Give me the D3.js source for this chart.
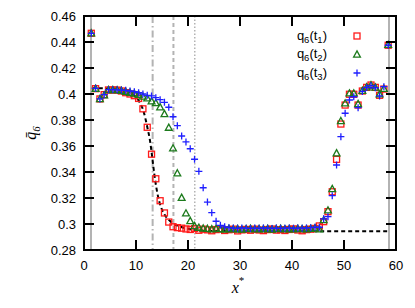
<!DOCTYPE html>
<html>
<head>
<meta charset="utf-8">
<script src="https://cdnjs.cloudflare.com/ajax/libs/d3/7.8.5/d3.min.js"></script>
<style>
  body { margin: 0; background: #fff; }
  svg { display: block; }
  .tick-label { font-family: "Liberation Sans", Arial, sans-serif; font-size: 13px; fill: #000; }
  .legend-label { font-family: "Liberation Sans", Arial, sans-serif; font-size: 13px; fill: #000; }
  .axis-title { font-family: "Liberation Serif", "Times New Roman", serif; font-style: italic; font-size: 16px; fill: #000; }
</style>
</head>
<body>
<div id="chart"></div>
<script>
// bin centres along x*
var xs = [1.40, 2.23, 3.06, 3.88, 4.71, 5.54, 6.37, 7.19, 8.02, 8.85,
  9.68, 10.50, 11.33, 12.16, 12.99, 13.81, 14.64, 15.47, 16.30, 17.12,
  17.95, 18.78, 19.61, 20.43, 21.26, 22.09, 22.92, 23.74, 24.57, 25.40,
  26.23, 27.05, 27.88, 28.71, 29.54, 30.36, 31.19, 32.02, 32.85, 33.67,
  34.50, 35.33, 36.16, 36.98, 37.81, 38.64, 39.47, 40.29, 41.12, 41.95,
  42.78, 43.60, 44.43, 45.26, 46.09, 46.92, 47.74, 48.57, 49.40, 50.22,
  51.05, 51.88, 52.71, 53.53, 54.36, 55.19, 56.02, 56.84, 57.67, 58.50];

var q6t1 = [0.4467, 0.4041, 0.3962, 0.3995, 0.4031, 0.4031, 0.4030, 0.4023, 0.4010, 0.4000,
  0.3987, 0.3966, 0.3886, 0.3744, 0.3537, 0.3348, 0.3179, 0.3085, 0.3015, 0.2979,
  0.2972, 0.2968, 0.2962, 0.2958, 0.2965, 0.2952, 0.2960, 0.2955, 0.2948, 0.2957,
  0.2962, 0.2950, 0.2956, 0.2960, 0.2947, 0.2955, 0.2958, 0.2952, 0.2960, 0.2954,
  0.2949, 0.2957, 0.2961, 0.2953, 0.2956, 0.2950, 0.2958, 0.2962, 0.2954, 0.2948,
  0.2957, 0.2960, 0.2966, 0.2985, 0.3018, 0.3095, 0.3248, 0.3497, 0.3769, 0.3915,
  0.3998, 0.3998, 0.3915, 0.4023, 0.4051, 0.4069, 0.4051, 0.3990, 0.4038, 0.4375];

var q6t2 = [0.4467, 0.4041, 0.3962, 0.3990, 0.4031, 0.4031, 0.4030, 0.4025, 0.4018, 0.4010,
  0.4003, 0.3995, 0.3980, 0.3967, 0.3944, 0.3931, 0.3898, 0.3846, 0.3741, 0.3582,
  0.3390, 0.3202, 0.3082, 0.3023, 0.2985, 0.2972, 0.2966, 0.2963, 0.2960, 0.2964,
  0.2961, 0.2958, 0.2963, 0.2960, 0.2962, 0.2957, 0.2961, 0.2964, 0.2959, 0.2962,
  0.2960, 0.2963, 0.2958, 0.2961, 0.2964, 0.2960, 0.2962, 0.2959, 0.2963, 0.2961,
  0.2960, 0.2964, 0.2968, 0.2960, 0.3030, 0.3105, 0.3269, 0.3544, 0.3792, 0.3928,
  0.4005, 0.4005, 0.3923, 0.4025, 0.4052, 0.4068, 0.4050, 0.3998, 0.4040, 0.4378];

var q6t3 = [0.4467, 0.4044, 0.3962, 0.3995, 0.4033, 0.4033, 0.4032, 0.4030, 0.4028, 0.4023,
  0.4018, 0.4010, 0.4000, 0.3990, 0.3985, 0.3972, 0.3956, 0.3936, 0.3898, 0.3825,
  0.3756, 0.3677, 0.3631, 0.3579, 0.3498, 0.3405, 0.3279, 0.3169, 0.3087, 0.3021,
  0.2990, 0.2978, 0.2972, 0.2969, 0.2967, 0.2970, 0.2968, 0.2966, 0.2969, 0.2967,
  0.2970, 0.2968, 0.2966, 0.2969, 0.2967, 0.2968, 0.2970, 0.2967, 0.2969, 0.2968,
  0.2970, 0.2972, 0.2975, 0.2975, 0.3040, 0.3056, 0.3218, 0.3454, 0.3672, 0.3852,
  0.3954, 0.3979, 0.3895, 0.4020, 0.4050, 0.4065, 0.4048, 0.3985, 0.4056, 0.4375];

// fitted interface profile (black dashed)
var fitX = [1.5, 5, 7, 8.5, 9.5, 10.5, 11.5, 12.2, 12.7, 13.1, 13.5, 14, 14.5, 15, 15.7,
  16.5, 17.5, 18.5, 20, 22, 25, 30, 58.5];
var fitY = [0.4045, 0.4042, 0.4035, 0.4020, 0.3995, 0.3950, 0.3860, 0.3740, 0.3640, 0.3520,
  0.3390, 0.3260, 0.3170, 0.3110, 0.3060, 0.3025, 0.2995, 0.2980, 0.2963, 0.2952, 0.2946,
  0.2945, 0.2945];

var walls = [1.35, 58.65];
var fronts = [13.2, 17.2, 21.3];
var frontDash = ["7,3,1.5,3", "4,3", "1.5,2"];

var xTicks = [0, 10, 20, 30, 40, 50, 60];
var yTicks = [0.28, 0.30, 0.32, 0.34, 0.36, 0.38, 0.40, 0.42, 0.44, 0.46];
var legendNames = ["1", "2", "3"];

var W = 415, H = 308;
var m = {left: 84, top: 16, right: 19, bottom: 58};
var iw = W - m.left - m.right, ih = H - m.top - m.bottom;

var svg = d3.select("#chart").append("svg")
  .attr("width", W).attr("height", H);

var x = d3.scaleLinear().domain([0, 60]).range([0, iw]);
var y = d3.scaleLinear().domain([0.28, 0.46]).range([ih, 0]);

var g = svg.append("g").attr("transform", "translate(" + m.left + "," + m.top + ")");

// vertical reference lines
g.selectAll(".wall").data(walls).enter().append("line")
  .attr("x1", function(d) { return x(d); }).attr("x2", function(d) { return x(d); })
  .attr("y1", 0).attr("y2", ih)
  .attr("stroke", "#b3b3b3").attr("stroke-width", 2);

g.selectAll(".front").data(fronts).enter().append("line")
  .attr("x1", function(d) { return x(d); }).attr("x2", function(d) { return x(d); })
  .attr("y1", 0).attr("y2", ih)
  .attr("stroke", "#b3b3b3")
  .attr("stroke-width", function(d, i) { return i === 2 ? 1.5 : 2; })
  .attr("stroke-dasharray", function(d, i) { return frontDash[i]; });

// fit curve
var fit = fitX.map(function(v, i) { return [v, fitY[i]]; });
g.append("path").datum(fit)
  .attr("fill", "none").attr("stroke", "#000").attr("stroke-width", 2)
  .attr("stroke-dasharray", "4,3")
  .attr("d", d3.line().curve(d3.curveMonotoneX)
    .x(function(d) { return x(d[0]); }).y(function(d) { return y(d[1]); }));

var pts = function(vals) { return xs.map(function(v, i) { return [v, vals[i]]; }); };

var drawSquares = function(sel) {
  sel.append("rect").attr("x", -3).attr("y", -3).attr("width", 6).attr("height", 6)
    .attr("fill", "none").attr("stroke", "#ff1a1a").attr("stroke-width", 1.3);
};
var drawTriangles = function(sel) {
  sel.append("path").attr("d", "M0,-3.6L3.4,2.6L-3.4,2.6Z")
    .attr("fill", "none").attr("stroke", "#1c7a1c").attr("stroke-width", 1.3);
};
var drawPlus = function(sel) {
  sel.append("path").attr("d", "M-3.5,0H3.5M0,-3.5V3.5")
    .attr("fill", "none").attr("stroke", "#1f1fff").attr("stroke-width", 1.3);
};

var series = [[q6t1, drawSquares], [q6t2, drawTriangles], [q6t3, drawPlus]];
series.forEach(function(s) {
  g.append("g").selectAll("g").data(pts(s[0])).enter().append("g")
    .attr("transform", function(d) { return "translate(" + x(d[0]) + "," + y(d[1]) + ")"; })
    .call(s[1]);
});

// frame + inward ticks on all sides
g.append("rect").attr("width", iw).attr("height", ih)
  .attr("fill", "none").attr("stroke", "#000").attr("stroke-width", 2);

var tl = 10;
var xt = xTicks.slice(1, -1), yt = yTicks.slice(1, -1);
g.selectAll(".xtb").data(xt).enter().append("line")
  .attr("x1", function(d) { return x(d); }).attr("x2", function(d) { return x(d); })
  .attr("y1", ih).attr("y2", ih - tl).attr("stroke", "#000").attr("stroke-width", 2);
g.selectAll(".xtt").data(xt).enter().append("line")
  .attr("x1", function(d) { return x(d); }).attr("x2", function(d) { return x(d); })
  .attr("y1", 0).attr("y2", tl).attr("stroke", "#000").attr("stroke-width", 2);
g.selectAll(".ytl").data(yt).enter().append("line")
  .attr("y1", function(d) { return y(d); }).attr("y2", function(d) { return y(d); })
  .attr("x1", 0).attr("x2", tl).attr("stroke", "#000").attr("stroke-width", 2);
g.selectAll(".ytr").data(yt).enter().append("line")
  .attr("y1", function(d) { return y(d); }).attr("y2", function(d) { return y(d); })
  .attr("x1", iw).attr("x2", iw - tl).attr("stroke", "#000").attr("stroke-width", 2);

g.selectAll(".xl").data(xTicks).enter().append("text")
  .attr("class", "tick-label")
  .attr("x", function(d) { return x(d); }).attr("y", ih + 20)
  .attr("text-anchor", "middle").text(function(d) { return d; });
g.selectAll(".yl").data(yTicks).enter().append("text")
  .attr("class", "tick-label")
  .attr("x", -8).attr("y", function(d) { return y(d); }).attr("dy", "0.35em")
  .attr("text-anchor", "end").text(function(d) { return d3.format("")(+d.toFixed(2)); });

// axis titles
var xl = svg.append("text").attr("class", "axis-title")
  .attr("x", 238).attr("y", 293).attr("text-anchor", "middle");
xl.append("tspan").text("x");
xl.append("tspan").attr("dy", -9).attr("font-size", 11).attr("font-style", "normal").text("*");

var yl = svg.append("text").attr("class", "axis-title")
  .attr("transform", "translate(36,133) rotate(-90)").attr("text-anchor", "middle");
yl.append("tspan").text("q\u0304");
yl.append("tspan").attr("dy", 4).attr("font-size", 11).text("6");

// legend
var lg = svg.append("g");
var markers = [drawSquares, drawTriangles, drawPlus];
legendNames.forEach(function(n, i) {
  var ly = 36 + i * 18.5;
  var t = lg.append("text").attr("class", "legend-label")
    .attr("x", 327).attr("y", ly).attr("dy", "0.3em").attr("text-anchor", "end");
  t.append("tspan").text("q");
  t.append("tspan").attr("dy", 3).attr("font-size", 9.5).text("6");
  t.append("tspan").attr("dy", -3).text("(t");
  t.append("tspan").attr("dy", 3).attr("font-size", 9.5).text(n);
  t.append("tspan").attr("dy", -3).text(")");
  lg.append("g").attr("transform", "translate(357," + ly + ")").call(markers[i]);
});
</script>
</body>
</html>
